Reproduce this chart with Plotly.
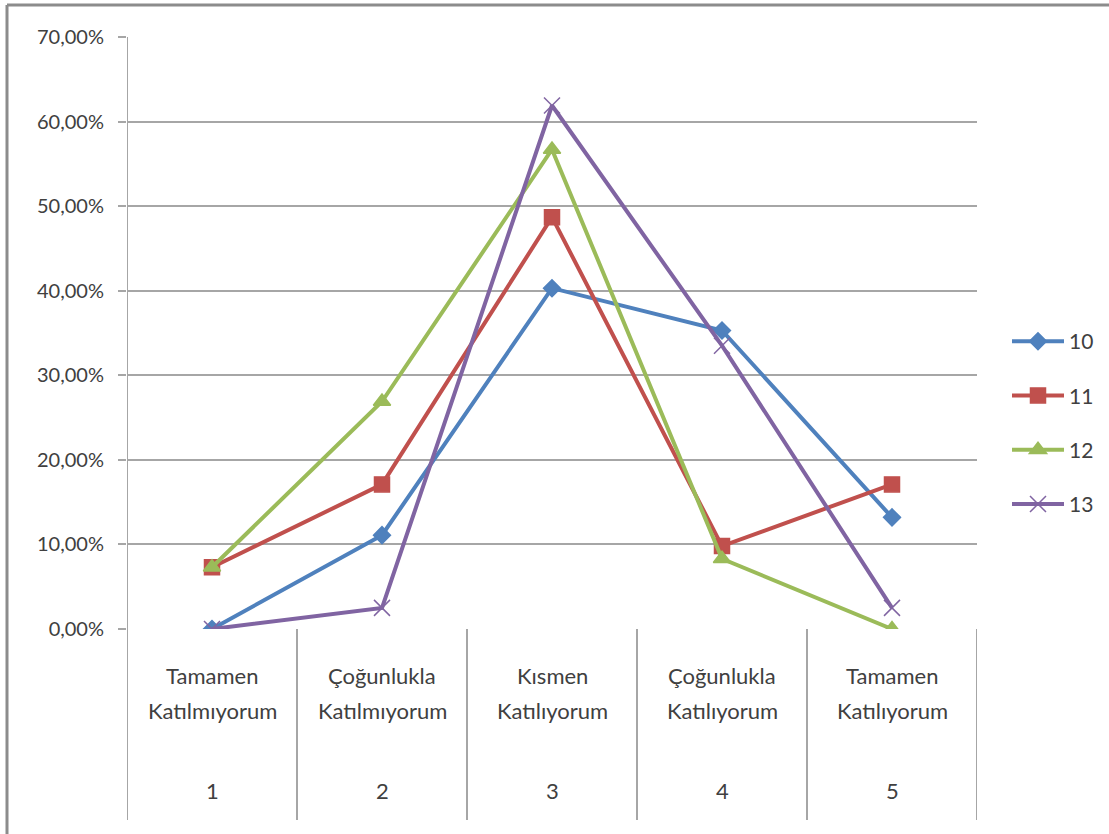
import plotly.graph_objects as go

# Response categories on the x axis (label text and scale value)
categories = ["Tamamen<br>Katılmıyorum", "Çoğunlukla<br>Katılmıyorum", "Kısmen<br>Katılıyorum",
              "Çoğunlukla<br>Katılıyorum", "Tamamen<br>Katılıyorum"]
scale_values = ["1", "2", "3", "4", "5"]

# Share of answers per item (fractions)
item_10 = [0.000, 0.111, 0.403, 0.353, 0.132]
item_11 = [0.073, 0.171, 0.487, 0.098, 0.171]
item_12 = [0.073, 0.269, 0.567, 0.083, 0.000]
item_13 = [0.000, 0.025, 0.619, 0.335, 0.025]

series_names = ["10", "11", "12", "13"]
series_values = [item_10, item_11, item_12, item_13]
series_colors = ["#4F81BD", "#C0504D", "#9BBB59", "#8064A2"]
series_symbols = ["diamond", "square", "triangle-up", "x-thin"]
series_sizes = [13, 15, 15, 16]

W, H = 1109, 834
L, R, T, B = 127, 132, 37, 205
plot_w = W - L - R
plot_h = H - T - B

x_pos = list(range(1, len(categories) + 1))

fig = go.Figure()
for name, vals, col, sym, sz in zip(series_names, series_values,
                                    series_colors, series_symbols, series_sizes):
    fig.add_trace(go.Scatter(
        x=x_pos, y=vals, name=name, mode="lines+markers",
        legendgroup=name,
        line=dict(color=col, width=4),
        marker=dict(symbol=sym, size=sz, color=col,
                    line=dict(color=col, width=1.5)),
    ))

font_family = "Lato, 'Open Sans', sans-serif"
text_color = "#404040"
grid_color = "#A6A6A6"


def px_to_paper_y(py):
    return (H - B - py) / plot_h


# Category separators running from the axis down through the label area
bottom_paper = px_to_paper_y(820)
shapes = []
for k in range(len(categories) + 1):
    xv = 0.5 + k
    shapes.append(dict(type="line", xref="x", yref="paper", x0=xv, x1=xv,
                       y0=1 if k == 0 else 0, y1=bottom_paper,
                       line=dict(color=grid_color, width=2)))

# Chart area frame (left and top edges)
frame_x = (7 - L) / plot_w
frame_y = px_to_paper_y(5)
shapes.append(dict(type="line", xref="paper", yref="paper", x0=frame_x, x1=frame_x,
                   y0=frame_y, y1=px_to_paper_y(H + 5), line=dict(color="#8C8C8C", width=3)))
shapes.append(dict(type="line", xref="paper", yref="paper", x0=frame_x, x1=(W + 5 - L) / plot_w,
                   y0=frame_y, y1=frame_y, line=dict(color="#8C8C8C", width=3)))

# Category labels: each text line placed on its own row, scale value below
annotations = []
line_rows = [675, 710]
for xv, cat, num in zip(x_pos, categories, scale_values):
    for row_px, part in zip(line_rows, cat.split("<br>")):
        annotations.append(dict(x=xv, y=px_to_paper_y(row_px), xref="x", yref="paper",
                                text=part, showarrow=False, yanchor="middle",
                                font=dict(family=font_family, size=22, color=text_color)))
    annotations.append(dict(x=xv, y=px_to_paper_y(790), xref="x", yref="paper", text=num,
                            showarrow=False, yanchor="middle",
                            font=dict(family=font_family, size=22, color=text_color)))

fig.update_layout(
    width=W, height=H,
    margin=dict(l=L, r=R, t=T, b=B, autoexpand=False),
    paper_bgcolor="white", plot_bgcolor="white",
    separators=",.",
    font=dict(family=font_family, size=20, color=text_color),
    xaxis=dict(range=[0.5, len(categories) + 0.5], showticklabels=False, showgrid=False,
               zeroline=False, showline=False, ticks=""),
    yaxis=dict(range=[0, 0.7], dtick=0.1, tickformat=".2%", showgrid=True,
               gridcolor=grid_color, gridwidth=2, zeroline=False, showline=False,
               ticks="outside", ticklen=8, tickcolor=grid_color, tickwidth=2,
               ticklabelstandoff=10,
               tickfont=dict(family=font_family, size=20, color=text_color)),
    legend=dict(xref="container", yref="container", x=1007 / W, y=(H - 423) / H,
                xanchor="left", yanchor="middle",
                font=dict(family=font_family, size=21, color=text_color),
                tracegroupgap=24, bgcolor="rgba(0,0,0,0)", itemwidth=52),
    shapes=shapes,
    annotations=annotations,
)

fig.write_html("out.html")
